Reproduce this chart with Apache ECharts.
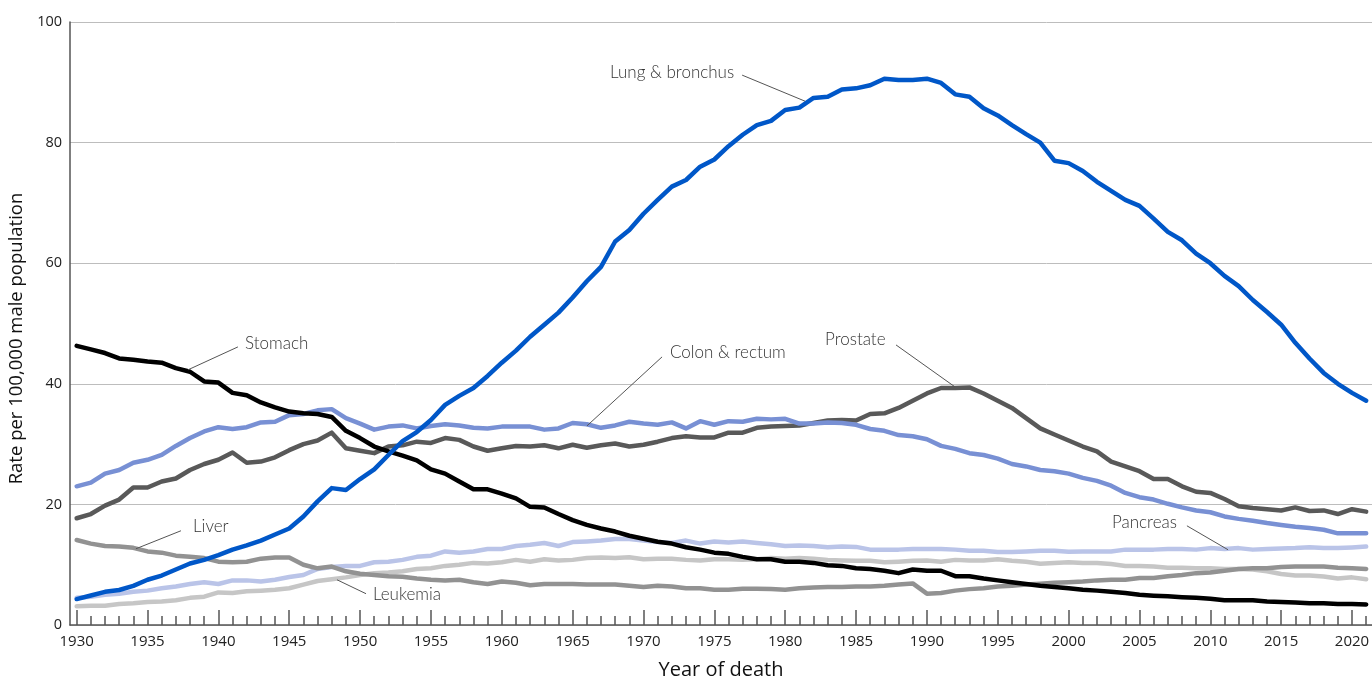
<!DOCTYPE html>
<html>
<head>
<meta charset="utf-8">
<script src="https://cdn.jsdelivr.net/npm/echarts@6/dist/echarts.min.js"></script>
<style>
html,body{margin:0;padding:0;background:#fff;}
#chart{width:1372px;height:679px;}
</style>
</head>
<body>
<div id="chart"></div>
<script>
// ---- data ----
const firstYear = 1930, lastYear = 2021;
const years = [];
for (let y = firstYear; y <= lastYear; y++) years.push(y);
const majorTickYears = [1930,1935,1940,1945,1950,1955,1960,1965,1970,1975,1980,1985,1990,1995,2000,2005,2010,2015,2020];

const lung = [4.3,4.9,5.5,5.8,6.5,7.5,8.2,9.2,10.2,10.8,11.6,12.5,13.2,14.0,15.0,16.0,18.0,20.5,22.7,22.4,
  24.2,25.8,28.2,30.5,32.0,34.0,36.5,38.0,39.3,41.3,43.5,45.5,47.8,49.8,51.8,54.3,57.0,59.4,63.6,65.5,
  68.2,70.5,72.7,73.8,76.0,77.2,79.4,81.3,82.9,83.6,85.4,85.8,87.4,87.6,88.8,89.0,89.5,90.6,90.4,90.4,
  90.6,89.9,88.0,87.6,85.7,84.5,82.9,81.4,80.0,77.0,76.6,75.3,73.5,72.0,70.5,69.5,67.4,65.2,63.8,61.6,
  60.0,57.9,56.2,53.9,51.9,49.8,46.8,44.2,41.8,40.0,38.5,37.2];
const colon = [23.0,23.6,25.1,25.7,26.9,27.4,28.2,29.7,31.0,32.1,32.8,32.5,32.8,33.6,33.7,34.8,35.0,35.6,35.8,34.3,
  33.4,32.4,32.9,33.1,32.6,33.0,33.3,33.1,32.7,32.6,32.9,32.9,32.9,32.4,32.6,33.5,33.3,32.7,33.1,33.7,
  33.4,33.2,33.6,32.6,33.8,33.2,33.8,33.7,34.2,34.1,34.2,33.4,33.4,33.6,33.5,33.2,32.5,32.2,31.5,31.3,
  30.8,29.7,29.2,28.5,28.2,27.6,26.7,26.3,25.7,25.5,25.1,24.4,23.9,23.1,21.9,21.2,20.8,20.1,19.5,19.0,
  18.7,18.0,17.6,17.3,16.9,16.6,16.3,16.1,15.8,15.2,15.2,15.2];
const prostate = [17.7,18.4,19.8,20.8,22.8,22.8,23.8,24.3,25.7,26.7,27.4,28.6,26.9,27.1,27.8,29.0,30.0,30.6,31.9,29.3,
  28.9,28.5,29.6,29.8,30.4,30.2,31.0,30.7,29.6,28.9,29.3,29.7,29.6,29.8,29.3,29.9,29.4,29.8,30.1,29.6,
  29.9,30.4,31.0,31.3,31.1,31.1,31.9,31.9,32.7,32.9,33.0,33.1,33.5,33.9,34.0,33.9,35.0,35.1,36.0,37.2,
  38.4,39.3,39.3,39.4,38.4,37.2,36.0,34.3,32.6,31.6,30.6,29.6,28.8,27.1,26.3,25.5,24.2,24.2,23.0,22.1,
  21.9,20.9,19.7,19.4,19.2,19.0,19.5,18.9,19.0,18.4,19.2,18.8];
const stomach = [46.3,45.7,45.1,44.2,44.0,43.7,43.5,42.6,42.0,40.4,40.2,38.5,38.1,36.9,36.1,35.4,35.1,35.0,34.5,32.2,
  31.0,29.6,28.8,28.1,27.3,25.8,25.1,23.8,22.5,22.5,21.8,21.0,19.6,19.5,18.4,17.4,16.6,16.0,15.5,14.8,
  14.3,13.8,13.5,12.9,12.5,12.0,11.8,11.3,10.9,10.9,10.5,10.5,10.3,9.9,9.8,9.4,9.3,9.0,8.6,9.2,
  9.0,9.0,8.1,8.1,7.7,7.4,7.1,6.8,6.5,6.3,6.1,5.85,5.7,5.5,5.3,5.0,4.85,4.75,4.6,4.5,
  4.35,4.1,4.1,4.1,3.9,3.8,3.75,3.6,3.6,3.5,3.5,3.4];
const liver = [14.1,13.5,13.1,13.0,12.8,12.2,12.0,11.5,11.3,11.1,10.5,10.4,10.5,11.0,11.2,11.2,10.0,9.4,9.7,8.9,
  8.5,8.3,8.1,8.0,7.7,7.5,7.4,7.5,7.1,6.8,7.2,7.0,6.6,6.8,6.8,6.8,6.7,6.7,6.7,6.5,
  6.3,6.5,6.4,6.1,6.1,5.85,5.85,6.0,6.0,5.95,5.85,6.1,6.2,6.3,6.3,6.4,6.4,6.5,6.7,6.9,
  5.2,5.3,5.7,5.95,6.1,6.4,6.5,6.7,6.85,7.0,7.1,7.2,7.4,7.5,7.5,7.8,7.8,8.1,8.3,8.6,
  8.7,9.0,9.3,9.4,9.4,9.6,9.7,9.7,9.7,9.5,9.4,9.3];
const pancreas = [4.5,4.7,5.0,5.2,5.5,5.7,6.1,6.4,6.8,7.1,6.8,7.4,7.4,7.2,7.5,7.95,8.3,9.3,9.6,9.8,
  9.8,10.4,10.5,10.8,11.3,11.5,12.2,12.0,12.2,12.6,12.6,13.1,13.3,13.6,13.1,13.75,13.85,14.0,14.25,14.25,
  14.0,13.75,13.6,14.0,13.5,13.85,13.7,13.85,13.6,13.4,13.1,13.2,13.1,12.9,13.0,12.95,12.5,12.5,12.5,12.6,
  12.6,12.6,12.5,12.3,12.3,12.1,12.1,12.2,12.3,12.3,12.15,12.2,12.2,12.2,12.5,12.5,12.5,12.6,12.6,12.5,
  12.75,12.6,12.75,12.5,12.6,12.7,12.75,12.9,12.75,12.75,12.85,13.0];
const leukemia = [3.1,3.2,3.2,3.5,3.6,3.8,3.9,4.1,4.5,4.7,5.4,5.3,5.6,5.7,5.85,6.1,6.7,7.3,7.6,7.9,
  8.3,8.6,8.7,8.9,9.3,9.4,9.8,10.0,10.3,10.2,10.4,10.8,10.5,10.9,10.7,10.8,11.1,11.2,11.1,11.25,
  10.9,11.0,11.0,10.8,10.7,10.9,10.9,10.8,10.9,11.1,11.0,11.1,11.0,10.8,10.7,10.65,10.65,10.4,10.5,10.65,
  10.7,10.5,10.8,10.7,10.7,10.9,10.65,10.5,10.15,10.3,10.4,10.3,10.3,10.1,9.8,9.8,9.7,9.5,9.5,9.4,
  9.4,9.3,9.3,9.2,8.9,8.45,8.2,8.2,8.05,7.7,7.9,7.6];

// annotations: label text, label anchor (data coords), leader line start/end (data coords)
const annotations = [
  {text:'Lung & bronchus', at:[1967.64,91.68], from:[1976.96,91.19], to:[1981.4,86.87]},
  {text:'Stomach',         at:[1941.88,46.62], from:[1941.38,46.12], to:[1937.85,42.31]},
  {text:'Colon & rectum',  at:[1971.87,45.12], from:[1971.31,44.46], to:[1966.01,33.02]},
  {text:'Prostate',        at:[1982.81,47.27], from:[1987.82,46.45], to:[1991.98,39.49]},
  {text:'Liver',           at:[1938.21,16.29], from:[1937.36,15.63], to:[1934.18,12.64]},
  {text:'Leukemia',        at:[1950.91,5.02],  from:[1950.42,5.19],  to:[1948.37,7.5]},
  {text:'Pancreas',        at:[2003.06,16.95], from:[2008.35,16.45], to:[2011.25,12.48]}
];

// ---- chart ----
const chart = echarts.init(document.getElementById('chart'), null, {renderer:'canvas'});
const pairs = arr => years.map((y,i) => [y, arr[i]]);
const seriesDefs = [
  {name:'Leukemia', data:leukemia, color:'#c6c6c6'},
  {name:'Pancreas', data:pancreas, color:'#bac4e8'},
  {name:'Liver', data:liver, color:'#929292'},
  {name:'Prostate', data:prostate, color:'#595959'},
  {name:'Colon & rectum', data:colon, color:'#7890d4'},
  {name:'Stomach', data:stomach, color:'#000000'},
  {name:'Lung & bronchus', data:lung, color:'#0057c8'}
];
const xMin = 1929.53, xMax = 2021.41;

chart.setOption({
  animation:false,
  backgroundColor:'#fff',
  grid:{left:70, right:0, top:22, bottom:54, containLabel:false, outerBoundsMode:'none'},
  xAxis:[{
    type:'value', min:xMin, max:xMax, position:'bottom',
    name:'Year of death', nameLocation:'middle', nameGap:35,
    nameTextStyle:{fontFamily:'Open Sans', fontSize:20, color:'#111'},
    axisLine:{show:true, lineStyle:{color:'#555', width:1.5}},
    axisTick:{show:true, inside:true, length:15, customValues:majorTickYears, lineStyle:{color:'#555', width:1.5}},
    axisLabel:{customValues:majorTickYears, margin:9, formatter:v=>String(Math.round(v)),
      fontFamily:'Open Sans', fontSize:15, color:'#222'},
    splitLine:{show:false}
  },{
    type:'value', min:xMin, max:xMax, position:'bottom',
    axisLine:{show:false},
    axisTick:{show:true, inside:true, length:9, customValues:years, lineStyle:{color:'#555', width:1.5}},
    axisLabel:{show:false},
    splitLine:{show:false}
  }],
  yAxis:{
    type:'value', min:0, max:100, interval:20,
    name:'Rate per 100,000 male population', nameLocation:'middle', nameGap:42,
    nameTextStyle:{fontFamily:'Open Sans', fontSize:18.5, color:'#111', padding:[0,30,0,0]},
    axisLine:{show:true, lineStyle:{color:'#555', width:1.5}},
    axisTick:{show:false},
    axisLabel:{margin:8, fontFamily:'Open Sans', fontSize:14.5, color:'#222', padding:[0,0,9,0]},
    splitLine:{show:true, lineStyle:{color:'#bdbdbd', width:1}}
  },
  series: seriesDefs.map(s => ({
    name:s.name, type:'line', xAxisIndex:0, yAxisIndex:0,
    data:pairs(s.data), showSymbol:false, symbol:'none', smooth:false,
    lineStyle:{color:s.color, width:4.5, join:'round', cap:'round'},
    itemStyle:{color:s.color}, emphasis:{disabled:true}
  }))
});

const px = p => chart.convertToPixel({xAxisIndex:0, yAxisIndex:0}, p);
const graphics = [];
annotations.forEach(a => {
  const t = px(a.at), f = px(a.from), e = px(a.to);
  graphics.push({type:'line', silent:true, z:100,
    shape:{x1:f[0], y1:f[1], x2:e[0], y2:e[1]},
    style:{stroke:'#555', lineWidth:1}});
  graphics.push({type:'text', silent:true, z:100, x:t[0], y:t[1],
    style:{text:a.text, fill:'#333', font:'300 17px Lato', textAlign:'left', textVerticalAlign:'middle'}});
});
chart.setOption({graphic:graphics});
</script>
</body>
</html>
